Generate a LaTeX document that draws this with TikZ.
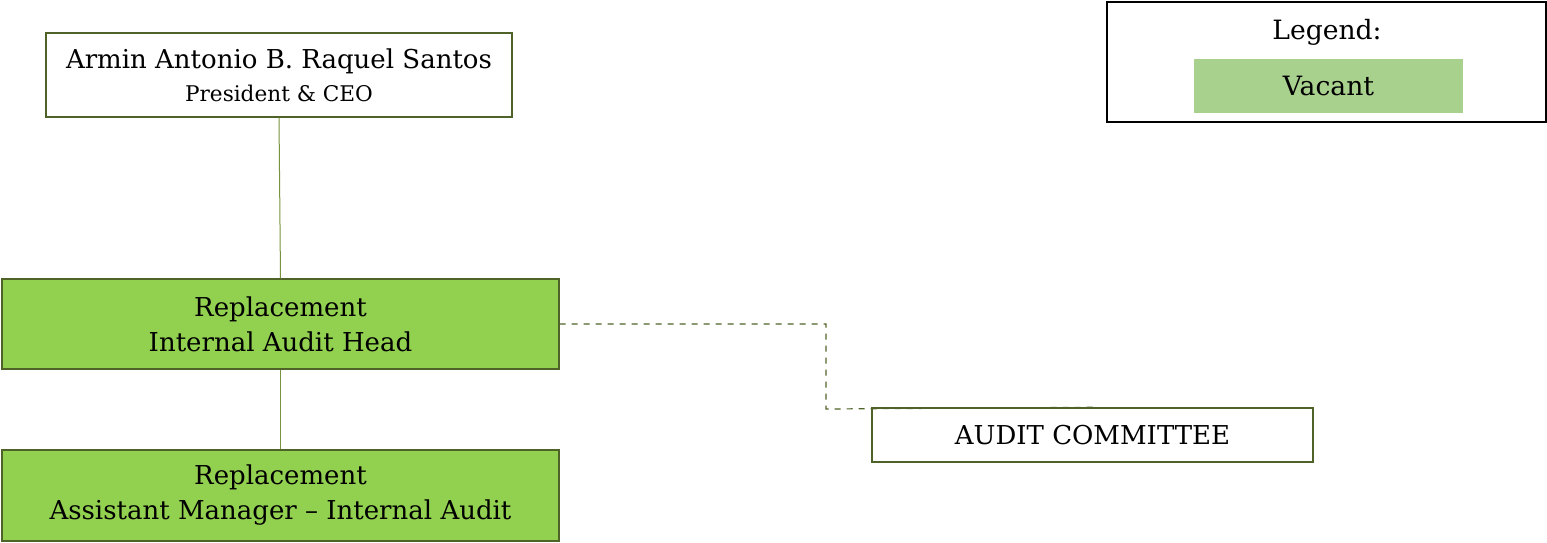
\documentclass[tikz,border=0pt]{standalone}
\usepackage{fontspec}
\setmainfont{DejaVu Serif}
\definecolor{boxline}{HTML}{4F6228}
\definecolor{vacantfill}{HTML}{92D050}
\definecolor{legendfill}{HTML}{A9D18E}
\definecolor{linkline}{HTML}{77933C}
\tikzset{
  orgbox/.style={draw=boxline, line width=0.7pt, align=center, inner sep=0pt, font=\fontsize{13}{17.5}\selectfont},
  vacantbox/.style={orgbox, fill=vacantfill},
  link/.style={draw=linkline, line width=0.5pt}
}
\begin{document}
\begin{tikzpicture}[x=0.5pt,y=-0.5pt]
\useasboundingbox (0,0) rectangle (1547,542);
% top of the chart
\node[orgbox, minimum width=233pt, minimum height=42pt] (ceo) at (279,75)
  {Armin Antonio B. Raquel Santos\\[-1pt]{\fontsize{10.8}{13}\selectfont President \& CEO}};
\node[vacantbox, minimum width=278.5pt, minimum height=45pt] (head) at (280.5,324)
  {Replacement\\Internal Audit Head};
\node[vacantbox, minimum width=278.5pt, minimum height=45.5pt] (asst) at (280.5,495.5)
  {Replacement\\Assistant Manager -- Internal Audit};
\node[orgbox, minimum width=220.5pt, minimum height=27pt] (committee) at (1092.5,435)
  {AUDIT COMMITTEE};
% legend
\draw[line width=0.7pt] (1107,2) rectangle (1546,122);
\node[font=\fontsize{13.3}{15}\selectfont] (legend) at (1327,32) {Legend:};
\node[fill=legendfill, minimum width=134.5pt, minimum height=27pt, font=\fontsize{13.3}{15}\selectfont] (vacant) at (1328.5,86) {Vacant};
% lines
\draw[link] (ceo.south) -- (head.north);
\draw[link] (head.south) -- (asst.north);
\coordinate (bend) at (826,409);
\draw[boxline, dashed, line width=0.6pt] (head.east) -| (bend) -- (committee.north);
\end{tikzpicture}
\end{document}
